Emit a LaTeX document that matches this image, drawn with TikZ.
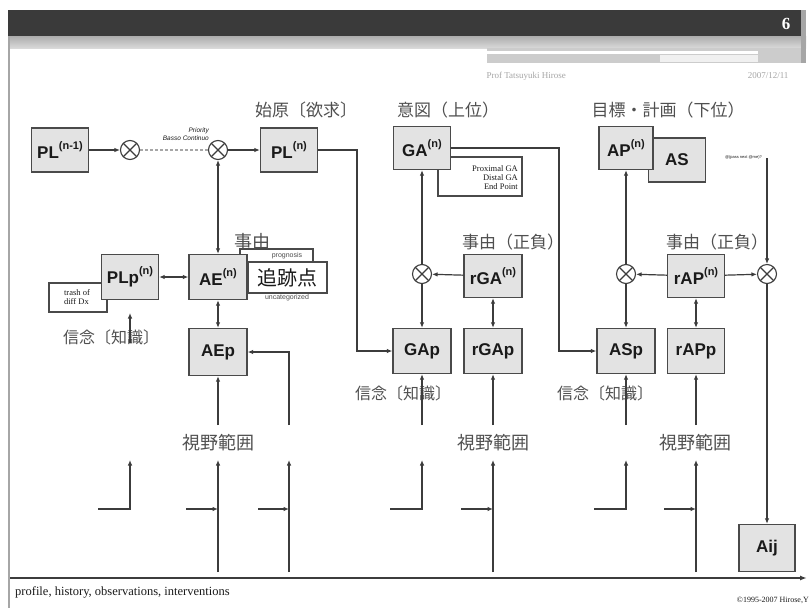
\documentclass[tikz,border=0pt]{standalone}
\usepackage{fontspec}
\setmainfont{Liberation Serif}
\setsansfont{Liberation Sans}
\newfontfamily\jpfont{Noto Sans CJK JP}
\usetikzlibrary{arrows.meta}
\definecolor{boxfill}{HTML}{E3E3E3}
\definecolor{boxline}{HTML}{4A4A4A}
\definecolor{linec}{HTML}{3C3C3C}
\definecolor{labc}{HTML}{505050}
\definecolor{hdark}{HTML}{3A3A3A}
\definecolor{txtc}{HTML}{1A1A1A}
\newcommand{\myss}[1]{\raisebox{0.5em}{\fontsize{11}{11}\selectfont #1}}
\begin{document}
\begin{tikzpicture}[x=1pt,y=-1pt,
  mbox/.style={draw=boxline, fill=boxfill, line width=1.3pt, minimum width=57pt, minimum height=44pt, inner sep=0pt, font=\sffamily\bfseries\fontsize{17}{19}\selectfont, text=txtc},
  bgbox/.style={draw=boxline, fill=white, line width=1.2pt, inner sep=0pt},
  otimes/.style={circle, draw=linec, line width=1.1pt, minimum size=19pt, inner sep=0pt, fill=white,
    path picture={\draw[linec, line width=1.1pt] (path picture bounding box.center) +(-6.7,-6.7) -- +(6.7,6.7) +(-6.7,6.7) -- +(6.7,-6.7);}},
  conn/.style={draw=linec, line width=1.2pt, -{Latex[length=5.5pt,width=4.5pt]}},
  dconn/.style={draw=linec, line width=1.2pt, {Latex[length=5.5pt,width=4.5pt]}-{Latex[length=5.5pt,width=4.5pt]}},
  plain/.style={draw=linec, line width=1.2pt},
  jlab/.style={font=\jpfont\fontsize{17}{19}\selectfont, text=labc, inner sep=0pt},
  tiny/.style={font=\rmfamily\fontsize{8.5}{9}\selectfont, text=txtc, inner sep=0pt}
]
\useasboundingbox (0,0) rectangle (810,608);
\fill[white] (0,0) rectangle (810,608);
% header
\fill[hdark] (8,10) rectangle (806,36);
\shade[top color=gray!65, bottom color=gray!30] (8,36) rectangle (806,48);
\fill[gray!40] (487,48) rectangle (806,63);
\fill[white] (487,51) rectangle (758,54);
\fill[gray!12] (660,55) rectangle (758,62);
\fill[gray!70] (801,10) rectangle (806,63);
\node[font=\rmfamily\bfseries\fontsize{17}{18}\selectfont, text=white] (pg) at (786,24) {6};
\node[font=\rmfamily\fontsize{9}{10}\selectfont, text=gray!70, anchor=west] (auth) at (483,76) {Prof Tatsuyuki Hirose};
\node[font=\rmfamily\fontsize{9}{10}\selectfont, text=gray!70, anchor=east] (date) at (792,76) {2007/12/11};
\draw[gray!70, line width=1.2pt] (9,36) -- (9,608);

% headings
\node[jlab] (h1) at (306,110) {始原〔欲求〕};
\node[jlab] (h2) at (448,110) {意図（上位）};
\node[jlab] (h3) at (668,110) {目標・計画（下位）};

% background boxes
\node[bgbox, minimum width=58pt, minimum height=29pt] (trash) at (78,297.5) {};
\node[tiny, align=left] (trasht) at (77,297) {trash of\\diff Dx};
\node[bgbox, minimum width=73pt, minimum height=44pt] (prog) at (276.5,271) {};
\node[font=\sffamily\fontsize{7}{8}\selectfont, text=gray!60!black] (progt) at (287,256) {prognosis};
\node[font=\sffamily\fontsize{7}{8}\selectfont, text=gray!60!black] (uncat) at (287,298) {uncategorized};
\node[bgbox, minimum width=84pt, minimum height=39pt] (prox) at (480,176.5) {};
\node[tiny, align=right, anchor=east] (proxt) at (518,178) {Proximal GA\\Distal GA\\End Point};
\node[mbox] (AS) at (677,160) {AS};

% main boxes
\node[mbox] (PLa) at (60,150) {PL\myss{(n-1)}};
\node[otimes] (c1) at (130,150) {};
\node[otimes] (c2) at (218,150) {};
\node[mbox] (PLn) at (289,150) {PL\myss{(n)}};
\node[mbox, minimum width=58pt, minimum height=45pt] (AE) at (218,277) {AE\myss{(n)}};
\node[mbox, minimum height=45pt] (PLp) at (130,277) {PLp\myss{(n)}};
\node[mbox, minimum width=58pt, minimum height=47pt] (AEp) at (218,352) {AEp};
\node[draw=boxline, fill=white, line width=1.2pt, minimum width=79pt, minimum height=31pt, inner sep=0pt, font=\jpfont\fontsize{20}{22}\selectfont, text=txtc] (trk) at (287.5,277.5) {追跡点};
\node[jlab, font=\jpfont\fontsize{18}{20}\selectfont] (jiyu1) at (252,242) {事由};

\node[mbox, minimum height=43pt] (GAn) at (422,148) {GA\myss{(n)}};
\node[otimes] (cGA) at (422,274) {};
\node[mbox, minimum width=58pt, minimum height=43pt] (rGA) at (493,276) {rGA\myss{(n)}};
\node[mbox, minimum width=58pt, minimum height=45pt] (GAp) at (422,351) {GAp};
\node[mbox, minimum width=58pt, minimum height=45pt] (rGAp) at (493,351) {rGAp};

\node[mbox, minimum width=54pt, minimum height=43pt] (APn) at (626,148) {AP\myss{(n)}};
\node[otimes] (cAP) at (626,274) {};
\node[mbox, minimum width=57pt, minimum height=43pt] (rAP) at (696,276) {rAP\myss{(n)}};
\node[otimes] (cR) at (767,274) {};
\node[mbox, minimum width=58pt, minimum height=45pt] (ASp) at (626,351) {ASp};
\node[mbox, minimum width=57pt, minimum height=45pt] (rAPp) at (696,351) {rAPp};
\node[mbox, minimum width=56pt, minimum height=47pt] (Aij) at (767,548) {Aij};

% labels
\node[jlab] (jiyu2) at (513,242) {事由（正負）};
\node[jlab] (jiyu3) at (717,242) {事由（正負）};
\node[jlab, font=\jpfont\fontsize{16}{18}\selectfont] (sk1) at (111,337) {信念〔知識〕};
\node[jlab, font=\jpfont\fontsize{16}{18}\selectfont] (sk2) at (403,393) {信念〔知識〕};
\node[jlab, font=\jpfont\fontsize{16}{18}\selectfont] (sk3) at (605,393) {信念〔知識〕};
\node[jlab, font=\jpfont\fontsize{18}{20}\selectfont] (sy1) at (218,443) {視野範囲};
\node[jlab, font=\jpfont\fontsize{18}{20}\selectfont] (sy2) at (493,443) {視野範囲};
\node[jlab, font=\jpfont\fontsize{18}{20}\selectfont] (sy3) at (695,443) {視野範囲};
\node[font=\sffamily\itshape\fontsize{6.5}{7.5}\selectfont, align=right, anchor=east, text=txtc, inner sep=0pt] (prio) at (209,134) {Priority\\Basso Continuo};
\node[font=\sffamily\fontsize{4}{5}\selectfont, anchor=east, text=txtc, inner sep=0pt] (ast) at (762,157) {@(pass next @me)?};

% connectors top row
\draw[conn] (PLa) -- (c1);
\draw[plain, dashed, gray!70, dash pattern=on 3pt off 2pt] (c1) -- (c2);
\draw[conn] (c2) -- (PLn);
\draw[dconn] (c2) -- (AE);
\draw[dconn] (PLp) -- (AE);
\draw[dconn] (AE) -- (AEp);
\coordinate (p1) at (357,150);
\draw[conn] (PLn.east) -- (p1) |- (GAp.west);
\coordinate (sk1a) at (130,343);
\coordinate (sk1b) at (130,313);
\draw[conn] (sk1a) -- (sk1b);

\draw[conn] (cGA) -- (GAn);
\draw[conn] (rGA) -- (cGA);
\draw[conn] (cGA) -- (GAp);
\draw[dconn] (rGA) -- (rGAp);
\coordinate (g1) at (559,148);
\draw[conn] (GAn.east) -- (g1) |- (ASp.west);

\draw[conn] (cAP) -- (APn);
\draw[conn] (rAP) -- (cAP);
\draw[conn] (rAP) -- (cR);
\draw[conn] (cAP) -- (ASp);
\draw[dconn] (rAP) -- (rAPp);
\coordinate (asc) at (767,158);
\draw[conn] (asc) -- (cR);
\draw[conn] (cR) -- (Aij);

% up-arrows into the perception boxes
\coordinate (u1) at (218,425);
\coordinate (u2) at (289,425);
\coordinate (u3) at (422,425);
\coordinate (u4) at (493,425);
\coordinate (u5) at (626,425);
\coordinate (u6) at (696,425);
\draw[conn] (u1) -- (AEp);
\draw[conn] (u2) |- (AEp.east);
\draw[conn] (u3) -- (GAp);
\draw[conn] (u4) -- (rGAp);
\draw[conn] (u5) -- (ASp);
\draw[conn] (u6) -- (rAPp);

% lower stubs
\foreach \n/\xx/\hs in {a/130/98, b/422/390, c/626/594}{
  \coordinate (L\n s) at (\hs,509);
  \coordinate (L\n t) at (\xx,460);
  \draw[conn] (L\n s) -| (L\n t);
}
\foreach \n/\xx/\hs in {a/218/186, b/289/258, c/493/461, d/696/664}{
  \coordinate (V\n b) at (\xx,572);
  \coordinate (V\n t) at (\xx,460);
  \coordinate (V\n h) at (\hs,509);
  \coordinate (V\n m) at (\xx,509);
  \draw[conn] (V\n b) -- (V\n t);
  \draw[conn] (V\n h) -- (V\n m);
}

% time axis
\coordinate (ax0) at (10,578);
\coordinate (ax1) at (807,578);
\draw[draw=linec, line width=1.5pt, -{Latex[length=7pt,width=5pt]}] (ax0) -- (ax1);
\node[font=\rmfamily\fontsize{12.5}{14}\selectfont, text=txtc, anchor=west, inner sep=0pt] (prof) at (15,592) {profile, history, observations, interventions};
\node[font=\rmfamily\fontsize{8}{9}\selectfont, text=txtc, anchor=east, inner sep=0pt] (copy) at (809,600) {©1995-2007 Hirose,Y};
\end{tikzpicture}
\end{document}
